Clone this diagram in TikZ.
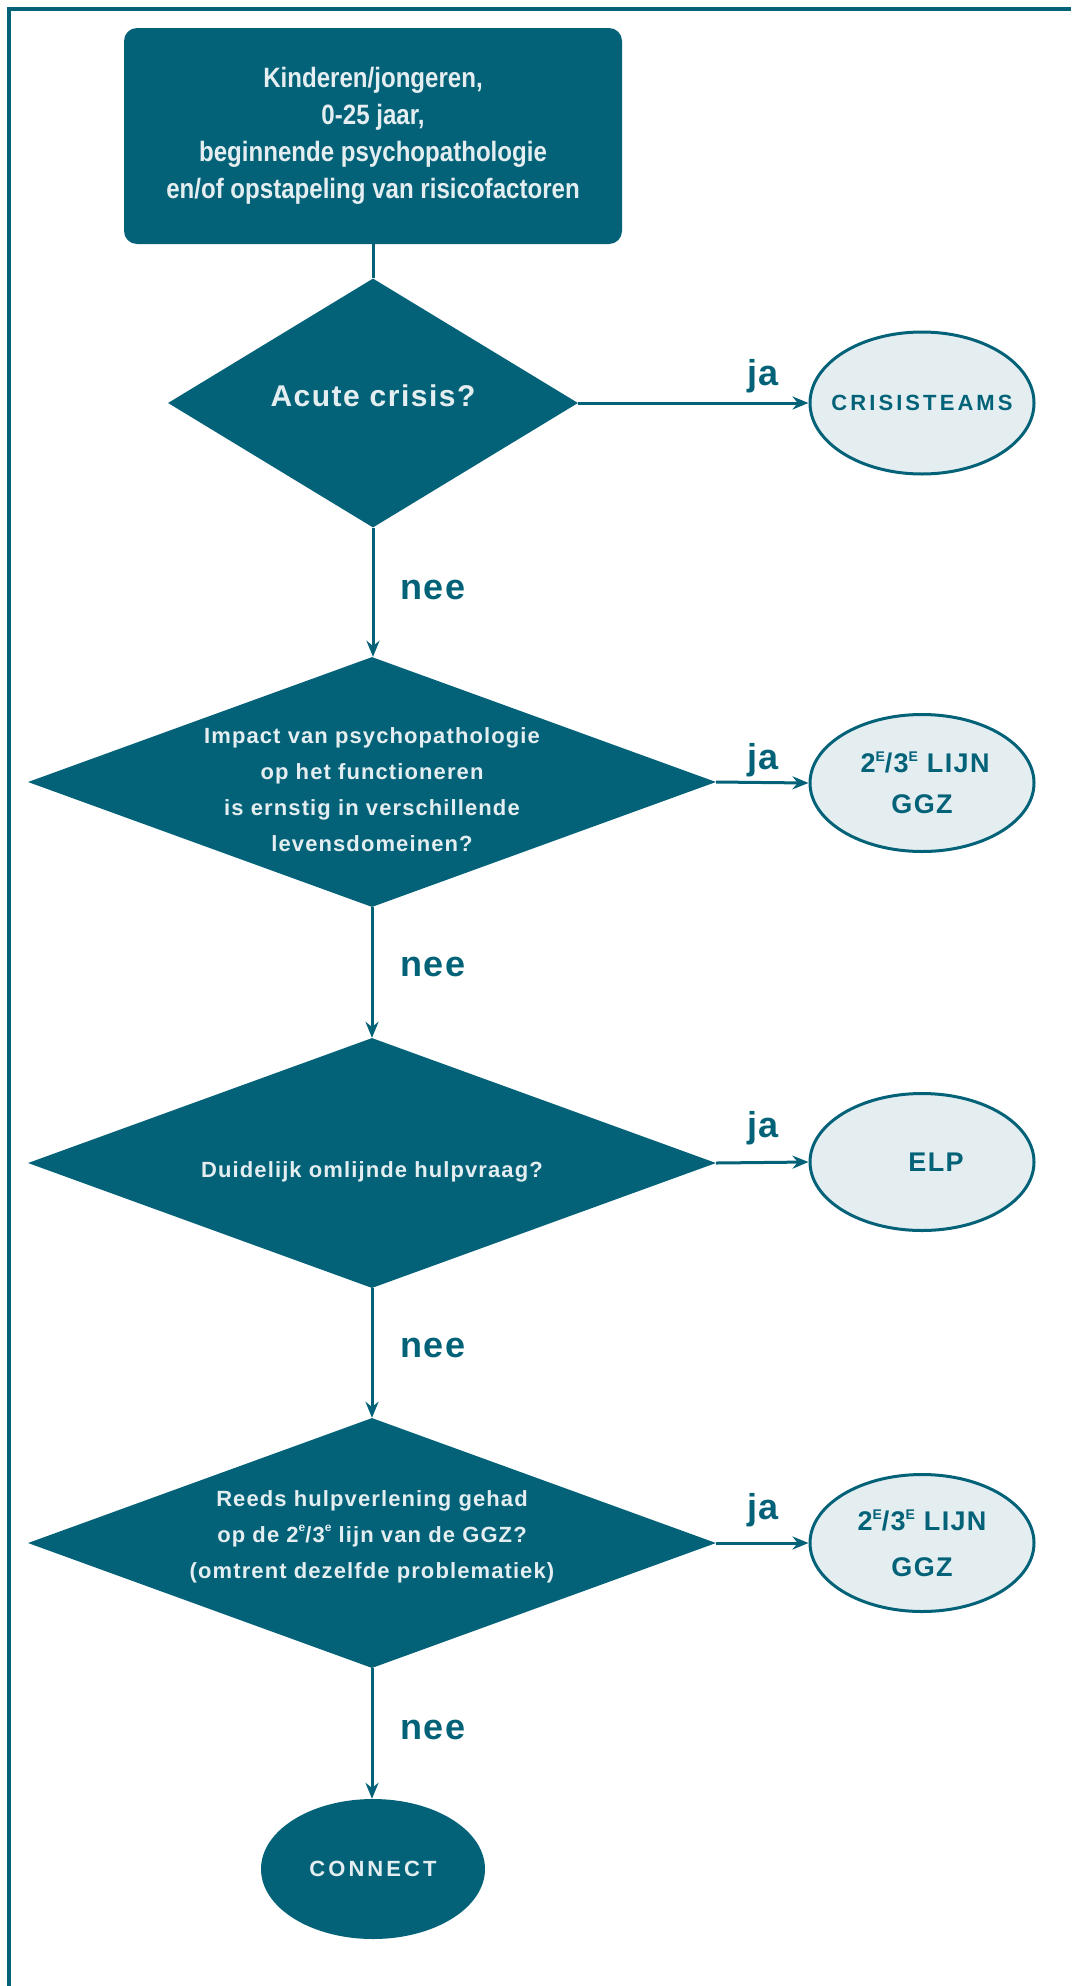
\documentclass[tikz,border=0pt]{standalone}
\usepackage{fontspec}
\setmainfont{Liberation Sans}
\newfontfamily\lsfont{Liberation Sans}[LetterSpace=5]
\newfontfamily\wsfont{Liberation Sans}[LetterSpace=14]
\newfontfamily\cfont{Liberation Sans}[FakeStretch=0.86]
\usetikzlibrary{shapes.geometric,arrows.meta}
\definecolor{teal}{RGB}{3,98,120}
\definecolor{lightfill}{RGB}{228,238,241}
\newcommand{\supE}{\raisebox{0.42em}{\fontsize{14}{14}\selectfont E}}
\newcommand{\supe}{\raisebox{0.5em}{\fontsize{12}{12}\selectfont e}}
\tikzset{
  startbox/.style={rectangle, rounded corners=13, fill=teal, minimum width=498, minimum height=216, inner sep=0, text=lightfill, align=center, font=\cfont\bfseries\fontsize{28}{37}\selectfont},
  question/.style={diamond, fill=teal, minimum width=#1, minimum height=250, inner sep=0},
  qtext/.style={text=lightfill, align=center, font=\lsfont\bfseries\fontsize{22}{36}\selectfont},
  outcome/.style={ellipse, draw=teal, line width=3, fill=lightfill, minimum width=224, minimum height=137, inner sep=0, text=teal, align=center},
  endnode/.style={ellipse, fill=teal, minimum width=224, minimum height=140, inner sep=0, text=lightfill},
  lab/.style={text=teal, inner sep=0, font=\lsfont\bfseries\fontsize{36}{36}\selectfont},
  conn/.style={draw=teal, line width=3},
  arr/.style={conn, -{Stealth[length=16, width=13]}},
  otext/.style={font=\lsfont\bfseries\fontsize{27}{41}\selectfont}
}
\begin{document}
\begin{tikzpicture}[x=1pt, y=-1pt]
\useasboundingbox (0,0) rectangle (1071,1986);
\draw[teal, line width=4] (9,1986) -- (9,9) -- (1071,9);

\node[startbox] (start) at (373,136) {Kinderen/jongeren,\\0-25 jaar,\\beginnende psychopathologie\\en/of opstapeling van risicofactoren};

\node[question=410, minimum height=249] (d1) at (373,403) {};
\node[qtext, font=\lsfont\bfseries\fontsize{30}{30}\selectfont] (d1t) at ([yshift=7]d1.center) {Acute crisis?};

\node[question=688] (d2) at (372,782) {};
\node[qtext] (d2t) at ([yshift=-8]d2.center) {Impact van psychopathologie\\op het functioneren\\is ernstig in verschillende\\levensdomeinen?};

\node[question=688] (d3) at (372,1163) {};
\node[qtext] (d3t) at ([yshift=-9]d3.center) {Duidelijk omlijnde hulpvraag?};

\node[question=688] (d4) at (372,1543) {};
\node[qtext] (d4t) at ([yshift=6]d4.center) {Reeds hulpverlening gehad\\op de 2\supe/3\supe\ lijn van de GGZ?\\(omtrent dezelfde problematiek)};

\node[outcome, minimum height=142, font=\wsfont\bfseries\fontsize{22}{22}\selectfont] (e1) at (922,403) {\makebox[0pt]{CRISISTEAMS}};
\node[outcome, otext] (e2) at (922,783) {\hspace*{6pt}2\supE/3\supE\ LIJN\\GGZ};
\node[outcome, otext] (e3) at (922,1162) {\hspace*{28pt}ELP};
\node[outcome, otext, font=\lsfont\bfseries\fontsize{27}{46}\selectfont] (e4) at (922,1543) {2\supE/3\supE\ LIJN\\GGZ};

\node[endnode, font=\wsfont\bfseries\fontsize{22}{22}\selectfont] (connect) at (373,1869) {CONNECT};

\draw[conn] (start.south) -- (d1.north);
\draw[arr] (d1.south) -- (d1.south |- d2.north);
\draw[arr] (d2.south) -- (d2.south |- d3.north);
\draw[arr] (d3.south) -- (d3.south |- d4.north);
\draw[arr] (d4.south) -- (d4.south |- connect.north);

\draw[arr] (d1.east) -- (e1.west);
\draw[arr] (d2.east) -- (e2.west);
\draw[arr] (d3.east) -- (e3.west);
\draw[arr] (d4.east) -- (e4.west);

\node[lab] (ja1) at (763,376) {ja};
\node[lab] (ja2) at (763,760) {ja};
\node[lab] (ja3) at (763,1128) {ja};
\node[lab] (ja4) at (763,1510) {ja};

\node[lab, anchor=west] (nee1) at (400,590) {nee};
\node[lab, anchor=west] (nee2) at (400,967) {nee};
\node[lab, anchor=west] (nee3) at (400,1348) {nee};
\node[lab, anchor=west] (nee4) at (400,1730) {nee};
\end{tikzpicture}
\end{document}
